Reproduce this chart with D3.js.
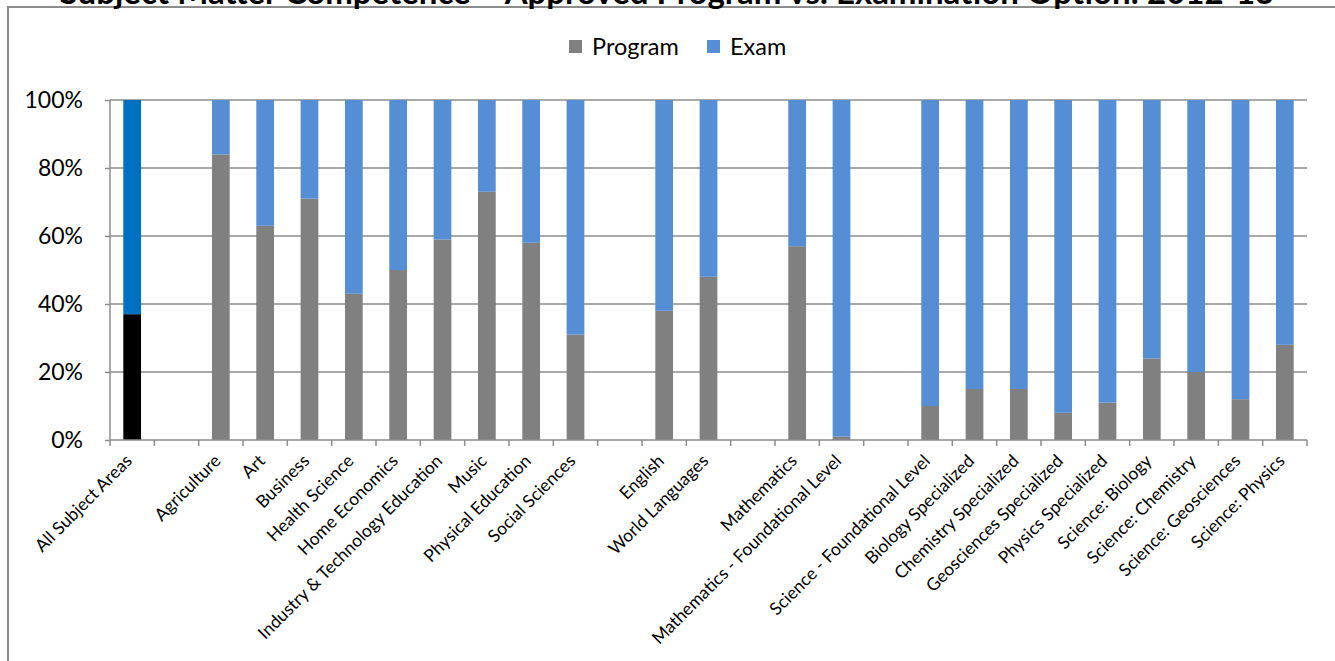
<!DOCTYPE html>
<html>
<head>
<meta charset="utf-8">
<script src="https://cdn.jsdelivr.net/npm/d3@7"></script>
<style>
  body { margin: 0; background: #fff; }
  svg { display: block; font-family: Lato, "Open Sans", sans-serif; }
</style>
</head>
<body>
<div id="chartContainer"></div>
<script>
// categories, blank slots are the gaps between subject groups
var categories = ["All Subject Areas", "", "Agriculture", "Art", "Business", "Health Science", "Home Economics",
  "Industry & Technology Education", "Music", "Physical Education", "Social Sciences", "", "English",
  "World Languages", "", "Mathematics", "Mathematics - Foundational Level", "", "Science - Foundational Level",
  "Biology Specialized", "Chemistry Specialized", "Geosciences Specialized", "Physics Specialized",
  "Science: Biology", "Science: Chemistry", "Science: Geosciences", "Science: Physics"];
var programPct = [37, null, 84, 63, 71, 43, 50, 59, 73, 58, 31, null, 38, 48, null, 57, 1, null, 10, 15, 15, 8, 11, 24, 20, 12, 28];
var examPct = [63, null, 16, 37, 29, 57, 50, 41, 27, 42, 69, null, 62, 52, null, 43, 99, null, 90, 85, 85, 92, 89, 76, 80, 88, 72];
var yTicks = [0, 20, 40, 60, 80, 100];
var seriesNames = ["Program", "Exam"];
var title = "Subject Matter Competence \u2013 Approved Program vs. Examination Option: 2012-13";

var W = 1335, H = 661;
var margin = {top: 100, left: 110, right: 28, bottom: 221};
var width = W - margin.left - margin.right;
var height = H - margin.top - margin.bottom;

var svg = d3.select("#chartContainer").append("svg")
  .attr("width", W).attr("height", H);

// chart border
svg.append("rect")
  .attr("x", 8).attr("y", 7)
  .attr("width", W + 10).attr("height", H + 10)
  .attr("fill", "none").attr("stroke", "#8c8c8c").attr("stroke-width", 2);

svg.append("text")
  .attr("x", 667).attr("y", 4)
  .attr("text-anchor", "middle")
  .attr("font-weight", "bold")
  .attr("font-size", 33)
  .text(title);

var g = svg.append("g").attr("transform", "translate(" + margin.left + "," + margin.top + ")");

var idx = d3.range(categories.length);
var xScale = d3.scaleBand().domain(idx).range([0, width]).paddingInner(0.6).paddingOuter(0.3);
var yScale = d3.scaleLinear().domain([0, 100]).range([height, 0]);

// gridlines
g.selectAll(".grid").data(yTicks.slice(1)).enter().append("line")
  .attr("x1", 0).attr("x2", width)
  .attr("y1", function(d) { return yScale(d); })
  .attr("y2", function(d) { return yScale(d); })
  .attr("stroke", "#8c8c8c").attr("stroke-width", 1.5);

// y axis
var yAxis = g.append("g")
  .call(d3.axisLeft(yScale).tickValues(yTicks).tickSize(5).tickPadding(22)
    .tickFormat(function(d) { return d + "%"; }));
yAxis.selectAll("text").attr("font-size", 23).attr("fill", "#000").attr("font-family", "Lato, sans-serif");
yAxis.selectAll("line, path").attr("stroke", "#8c8c8c").attr("stroke-width", 1.5);
yAxis.select("path").attr("d", "M0," + height + "V0");

// stacked bars
var rows = idx.filter(function(i) { return programPct[i] != null; });
g.selectAll(".prog").data(rows).enter().append("rect")
  .attr("x", function(i) { return xScale(i); })
  .attr("width", xScale.bandwidth())
  .attr("y", function(i) { return yScale(programPct[i]); })
  .attr("height", function(i) { return height - yScale(programPct[i]); })
  .attr("fill", function(i) { return i === 0 ? "#000000" : "#808080"; });

g.selectAll(".exam").data(rows).enter().append("rect")
  .attr("x", function(i) { return xScale(i); })
  .attr("width", xScale.bandwidth())
  .attr("y", function(i) { return yScale(programPct[i] + examPct[i]); })
  .attr("height", function(i) { return yScale(programPct[i]) - yScale(programPct[i] + examPct[i]); })
  .attr("fill", function(i) { return i === 0 ? "#0070C0" : "#558ED5"; });

// x axis line + ticks at band boundaries
g.append("line").attr("x1", 0).attr("x2", width).attr("y1", height).attr("y2", height)
  .attr("stroke", "#8c8c8c").attr("stroke-width", 1.5);
g.selectAll(".xtick").data(d3.range(categories.length + 1)).enter().append("line")
  .attr("x1", function(k) { return k * width / categories.length; })
  .attr("x2", function(k) { return k * width / categories.length; })
  .attr("y1", height).attr("y2", height + 6)
  .attr("stroke", "#8c8c8c").attr("stroke-width", 1.5);

// x labels
g.selectAll(".xlab").data(idx).enter().append("text")
  .attr("transform", function(i) {
    var cx = xScale(i) + xScale.bandwidth() / 2 + 1;
    return "translate(" + cx + "," + (height + 22) + ") rotate(-45)";
  })
  .attr("text-anchor", "end")
  .attr("font-size", 17.5)
  .text(function(i) { return categories[i]; });

// legend
var legend = svg.append("g").attr("transform", "translate(569,40)");
var legX = [0, 138];
seriesNames.forEach(function(name, k) {
  var lg = legend.append("g").attr("transform", "translate(" + legX[k] + ",0)");
  lg.append("rect").attr("width", 13).attr("height", 13).attr("fill", k === 0 ? "#808080" : "#558ED5");
  lg.append("text").attr("x", 23).attr("y", 14.5).attr("font-size", 23.5).text(name);
});
</script>
</body>
</html>
